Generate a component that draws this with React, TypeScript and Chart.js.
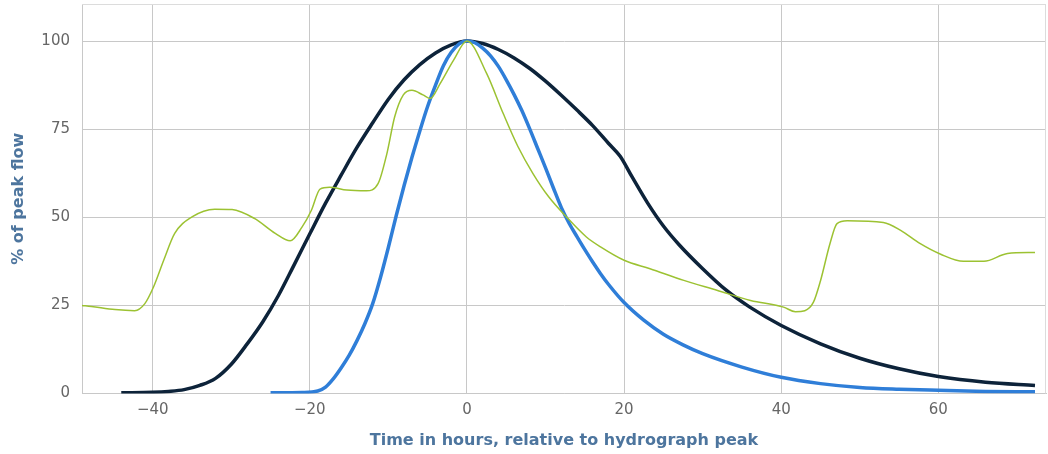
import React, { useEffect, useRef } from "react";
import { Chart, registerables } from "chart.js";

Chart.register(...registerables);

const xTicks = [-40, -20, 0, 20, 40, 60];
const yTicks = [0, 25, 50, 75, 100];

const navyHours = [-44, -40, -38, -36, -34, -32, -30, -28, -26, -24, -22, -20, -18, -16, -14, -12, -10, -8, -6, -4, -2, 0, 2, 4, 6, 8, 10, 12, 14, 16, 18, 19.5, 21, 23, 25, 27, 30, 33, 36, 40, 45, 50, 55, 60, 66, 72.3];
const navyPct = [0.2, 0.35, 0.6, 1.1, 2.3, 4.3, 8.3, 14, 20.3, 27.8, 36.5, 45.3, 54, 62, 69.8, 76.8, 83.5, 89, 93.3, 96.6, 98.9, 100, 99.3, 97.6, 95.2, 92.2, 88.6, 84.6, 80.4, 76, 71, 67.3, 61.5, 54, 47.5, 42.2, 35.4, 29.3, 24.5, 19.3, 14.1, 10, 7, 4.8, 3.2, 2.3];

const blueHours = [-25, -21, -19, -18, -17, -16, -15, -14, -13, -12, -11, -10, -9, -8, -7, -6, -5, -4, -3, -2, -1, 0, 1, 2, 3, 4, 5, 6, 7, 8, 9, 10, 11, 12, 13, 14, 15, 16, 17, 18, 20, 22.5, 25, 27.5, 30, 35, 40, 45, 50, 55, 60, 66, 72.3];
const bluePct = [0.2, 0.3, 0.7, 1.8, 4.2, 7.3, 10.8, 15, 19.8, 25.5, 33, 41.5, 50.5, 59, 67, 74.5, 81.5, 87.5, 93, 96.8, 99.2, 100, 99.5, 98, 95.8, 92.8, 89, 84.8, 80.2, 75, 69.5, 64, 58.3, 52.8, 48.3, 44.5, 40.8, 37.3, 34, 31, 25.8, 20.8, 16.8, 13.8, 11.3, 7.5, 4.6, 2.8, 1.7, 1.2, 0.9, 0.6, 0.5];

const greenHours = [-49, -47.8, -44.8, -42.3, -41, -39.9, -38.6, -37.2, -35, -32.1, -29.9, -27, -24.4, -22.5, -21, -19.8, -18.7, -17.5, -15.3, -12.8, -11.3, -10.2, -9.2, -8.1, -7, -5.6, -4.7, -3.4, -1.7, 0, 2.5, 4.6, 6.5, 8.4, 10.4, 12.7, 15.2, 17, 20, 23.3, 27.6, 31.8, 36.1, 40.3, 41.8, 43, 44.1, 45, 46.2, 47.1, 48.4, 53, 55.2, 57.7, 60.3, 63.2, 65.8, 68.8, 72.3];
const greenPct = [25, 24.7, 23.8, 23.5, 25.5, 30.2, 37.8, 45.4, 50.1, 52.3, 52.2, 49.6, 45.4, 43.3, 47.2, 52, 58, 58.5, 57.7, 57.5, 59.6, 68, 78.5, 84.7, 86, 84.7, 83.7, 88, 94.6, 100, 90.8, 79.5, 70, 62.4, 55.8, 50, 44.4, 41.6, 37.8, 35.4, 32.1, 29.3, 26.4, 24.5, 23.2, 23.5, 25.9, 32, 42.5, 48.2, 49, 48.5, 46.3, 42.5, 39.5, 37.5, 37.5, 39.7, 40];

const xTitle = "Time in hours, relative to hydrograph peak";
const yTitle = "% of peak flow";

const toPoints = (xs: number[], ys: number[]) => xs.map((x, i) => ({ x, y: ys[i] }));

const borderPlugin = {
  id: "plotBorder",
  beforeDatasetsDraw(chart: any) {
    const { ctx, chartArea } = chart;
    ctx.save();
    ctx.strokeStyle = "#dcdcdc";
    ctx.lineWidth = 1;
    ctx.beginPath();
    ctx.moveTo(chartArea.left, chartArea.top + 0.5);
    ctx.lineTo(chartArea.right, chartArea.top + 0.5);
    ctx.moveTo(chartArea.right - 0.5, chartArea.top);
    ctx.lineTo(chartArea.right - 0.5, chartArea.bottom);
    ctx.stroke();
    ctx.restore();
  },
};

export default function App() {
  const canvasRef = useRef<HTMLCanvasElement | null>(null);

  useEffect(() => {
    document.body.style.margin = "0";
    const canvas = canvasRef.current;
    if (!canvas) return;
    const gridColor = "#c8c8c8";
    const tickFont = { family: "DejaVu Sans", size: 15 };
    const titleFont = { family: "DejaVu Sans", size: 16, weight: "bold" as const };
    const chart = new Chart(canvas, {
      type: "line",
      data: {
        datasets: [
          {
            data: toPoints(greenHours, greenPct),
            borderColor: "#9cc232",
            borderWidth: 1.5,
            pointRadius: 0,
            cubicInterpolationMode: "monotone",
            fill: false,
          },
          {
            data: toPoints(blueHours, bluePct),
            borderColor: "#2f7ed8",
            borderWidth: 3.5,
            pointRadius: 0,
            cubicInterpolationMode: "monotone",
            fill: false,
          },
          {
            data: toPoints(navyHours, navyPct),
            borderColor: "#0d233a",
            borderWidth: 3.5,
            pointRadius: 0,
            cubicInterpolationMode: "monotone",
            fill: false,
          },
        ],
      },
      options: {
        animation: false,
        responsive: false,
        maintainAspectRatio: false,
        layout: { padding: { top: 4, right: 2, left: 0, bottom: 0 } },
        plugins: {
          legend: { display: false },
          tooltip: { enabled: false },
        },
        scales: {
          x: {
            type: "linear",
            min: -49,
            max: 73.7,
            afterBuildTicks: (scale: any) => {
              scale.ticks = xTicks.map((v) => ({ value: v }));
            },
            afterFit: (scale: any) => {
              scale.height = 60.5;
              scale.paddingLeft = 0;
              scale.paddingRight = 0;
            },
            grid: { color: gridColor, drawTicks: false },
            border: { color: gridColor },
            ticks: {
              font: tickFont,
              color: "#666666",
              padding: 8,
              maxRotation: 0,
              callback: (v: any) => String(v).replace("-", "−"),
            },
            title: {
              display: true,
              text: xTitle,
              color: "#4d759e",
              font: titleFont,
              padding: { top: 0, bottom: 4 },
            },
          },
          y: {
            type: "linear",
            min: 0,
            max: 110.5,
            afterBuildTicks: (scale: any) => {
              scale.ticks = yTicks.map((v) => ({ value: v }));
            },
            afterFit: (scale: any) => {
              scale.width = 82;
              scale.paddingTop = 0;
              scale.paddingBottom = 0;
            },
            grid: { color: gridColor, drawTicks: false },
            border: { color: gridColor },
            ticks: {
              font: tickFont,
              color: "#666666",
              padding: 12,
            },
            title: {
              display: true,
              text: yTitle,
              color: "#4d759e",
              font: titleFont,
              padding: { top: 9, bottom: 0 },
            },
          },
        },
      },
      plugins: [borderPlugin],
    });
    return () => chart.destroy();
  }, []);

  return (
    <div style={{ width: 1048, height: 454, position: "relative" }}>
      <canvas ref={canvasRef} width={1048} height={454} style={{ width: 1048, height: 454 }} />
    </div>
  );
}
